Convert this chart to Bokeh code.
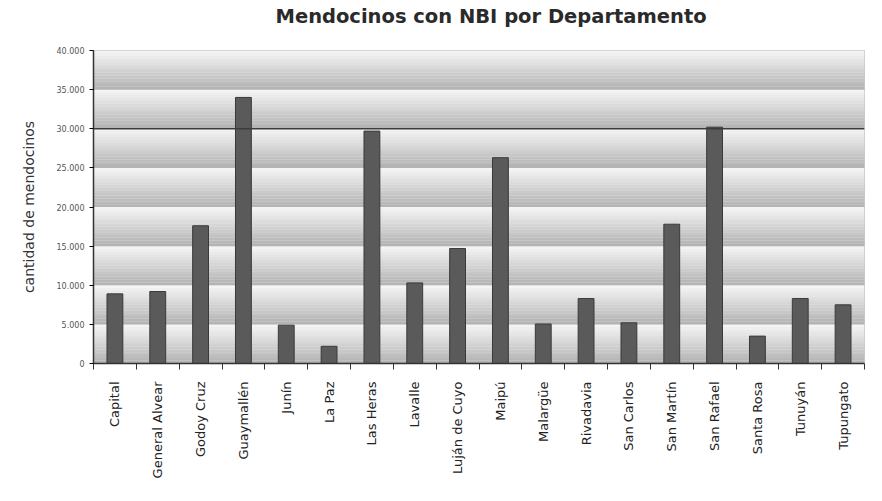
from math import pi
from bokeh.plotting import figure
from bokeh.models import FixedTicker, Range1d, Span, Title
from bokeh.embed import file_html
from bokeh.resources import INLINE

titulo = "Mendocinos con NBI por Departamento"
departamentos = ["Capital", "General Alvear", "Godoy Cruz", "Guaymallén", "Junín", "La Paz",
                 "Las Heras", "Lavalle", "Luján de Cuyo", "Maipú", "Malargüe", "Rivadavia",
                 "San Carlos", "San Martín", "San Rafael", "Santa Rosa", "Tunuyán", "Tupungato"]
nbi = [8900, 9200, 17600, 34000, 4900, 2200, 29700, 10300, 14700, 26300, 5050, 8300,
       5200, 17800, 30200, 3500, 8300, 7500]
y_ticks = [0, 5000, 10000, 15000, 20000, 25000, 30000, 35000, 40000]
y_tick_labels = ["0", "5.000", "10.000", "15.000", "20.000", "25.000", "30.000", "35.000", "40.000"]
highlight_line = 30000

n = len(departamentos)
xs = list(range(n))

p = figure(width=866, height=485, output_backend="svg", toolbar_location=None,
           x_range=Range1d(-0.5, n - 0.5), y_range=Range1d(y_ticks[0], y_ticks[-1]),
           min_border_left=93, min_border_right=2, min_border_top=0, min_border_bottom=122)
p.background_fill_color = "#e8e8e8"
p.border_fill_color = "white"
p.outline_line_color = "#c8c8c8"
p.xgrid.visible = False
p.ygrid.visible = False

# spacer (nearest to the frame) and then the title above it
p.add_layout(Title(text=" ", text_font_size="16px", standoff=1), "above")
p.add_layout(Title(text=titulo, align="left", offset=182, standoff=5,
                   text_font="DejaVu Sans", text_font_size="19.5px", text_font_style="bold",
                   text_color="#2a2a2a"), "above")

# gradient bands between y ticks (light at top, dark at bottom)
steps = 14
bl, bt, bc = [], [], []
for i in range(len(y_ticks) - 1):
    lo, hi = y_ticks[i], y_ticks[i + 1]
    h = (hi - lo) / steps
    for s in range(steps):
        frac = s / (steps - 1)  # 0 bottom -> 1 top
        g = int(180 + (244 - 180) * frac)
        bl.append(lo + s * h)
        bt.append(lo + (s + 1) * h)
        bc.append("#%02x%02x%02x" % (g, g, g))
p.quad(left=-0.5, right=n - 0.5, bottom=bl, top=bt, fill_color=bc, line_color=None)

p.add_layout(Span(location=highlight_line, dimension="width", line_color="#3c3c3c", line_width=1.5))

p.vbar(x=xs, top=nbi, bottom=0, width=0.37, fill_color="#5a5a5a", line_color="#3a3a3a", line_width=1)

xa = p.xaxis[0]
xa.ticker = FixedTicker(ticks=xs, minor_ticks=[x - 0.5 for x in xs] + [n - 0.5])
xa.major_label_overrides = {x: d for x, d in zip(xs, departamentos)}
xa.major_label_orientation = pi / 2
xa.major_tick_out = 0
xa.major_tick_in = 0
xa.minor_tick_out = 6
xa.minor_tick_in = 0
xa.axis_line_color = "#333333"
xa.axis_line_width = 1.5
xa.minor_tick_line_color = "#333333"
xa.major_label_text_font = "DejaVu Sans"
xa.major_label_text_font_size = "13px"
xa.major_label_text_color = "#222222"
xa.major_label_standoff = 12

ya = p.yaxis[0]
ya.ticker = FixedTicker(ticks=y_ticks)
ya.major_label_overrides = {t: l for t, l in zip(y_ticks, y_tick_labels)}
ya.major_tick_out = 4
ya.major_tick_in = 0
ya.minor_tick_line_color = None
ya.axis_line_color = "#333333"
ya.axis_line_width = 1.5
ya.major_label_text_font = "DejaVu Sans"
ya.major_label_text_font_size = "8px"
ya.major_label_text_color = "#555555"
ya.axis_label = "cantidad de mendocinos"
ya.axis_label_text_font = "DejaVu Sans"
ya.axis_label_text_font_size = "14px"
ya.axis_label_text_font_style = "normal"
ya.axis_label_text_color = "#333333"
ya.axis_label_standoff = 17

open("out.html", "w").write(file_html(p, INLINE))
